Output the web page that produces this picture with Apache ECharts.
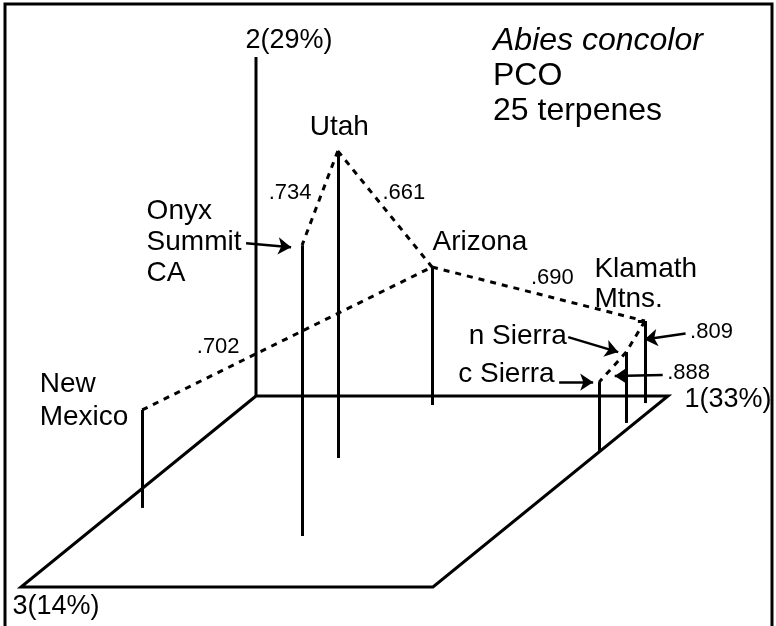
<!DOCTYPE html>
<html>
<head>
<meta charset="utf-8">
<script src="https://cdn.jsdelivr.net/npm/echarts@6/dist/echarts.min.js"></script>
<style>
html, body { margin: 0; padding: 0; background: #fff; }
#main { width: 776px; height: 626px; }
</style>
</head>
<body>
<div id="main"></div>
<script>
// populations and their PCO scores (as a fraction of each drawn axis)
var populations = ['New Mexico', 'Onyx Summit CA', 'Utah', 'Arizona', 'c Sierra', 'n Sierra', 'Klamath Mtns.'];
var popLabels = ['New\nMexico', 'Onyx\nSummit\nCA', 'Utah', 'Arizona', 'c Sierra', 'n Sierra', 'Klamath\nMtns.'];
var pco1 = [0.058, 0.530, 0.384, 0.454, 1.000, 0.979, 0.965];
var pco2 = [0.289, 0.858, 0.906, 0.407, 0.206, 0.209, 0.242];
var pco3 = [0.586, 0.733, 0.325, 0.047, 0.293, 0.141, 0.037];

// minimum spanning tree links (index into populations) and similarity
var linkFrom = [0, 2, 2, 3, 6, 5];
var linkTo = [3, 1, 3, 6, 5, 4];
var linkValues = ['.702', '.734', '.661', '.690', '.809', '.888'];

var axisNames = ['1(33%)', '2(29%)', '3(14%)'];

// --- oblique view of the 3 axes on the page ---
var FONT = 'Liberation Sans, Arial, sans-serif';
var INK = '#000';
var origin = [256, 396];
var e1 = [412, 0], e2 = [0, -339], e3 = [-235, 191];

function project(a, b, c) {
    return [origin[0] + a * e1[0] + b * e2[0] + c * e3[0],
            origin[1] + a * e1[1] + b * e2[1] + c * e3[1]];
}
function shift(p, d) {
    return [p[0] + d[0], p[1] + d[1]];
}
function mid(p, q) {
    return [(p[0] + q[0]) / 2, (p[1] + q[1]) / 2];
}

var tops = [], floors = [];
for (var i = 0; i < populations.length; i++) {
    tops.push(project(pco1[i], pco2[i], pco3[i]));
    floors.push(project(pco1[i], 0, pco3[i]));
}

// label placement (pixels from the top of each stick)
var popLabelLayout = [
    { d: [-102, -9], align: 'left', lh: 33 },
    { d: [-155, -2], align: 'left', lh: 31 },
    { d: [2, -23], align: 'center', lh: 30 },
    { d: [1, -24], align: 'left', lh: 30 },
    { d: [-44, -7], align: 'right', lh: 30 },
    { d: [-59, -15], align: 'right', lh: 30 },
    { d: [-50, -36], align: 'left', lh: 30 }
];
var linkLabelLayout = [
    { d: [-47, 9], align: 'right' },
    { d: [-8, -5], align: 'right' },
    { d: [-2, -16], align: 'left' },
    { d: [-7, -16], align: 'left' },
    { d: [55, -4], align: 'left' },
    { d: [55, 6], align: 'left' }
];
// pointer arrows: anchor, start offset, end offset
var arrows = [
    { pop: 1, from: [-56, -2], to: [-11, 2] },
    { pop: 5, from: [-58, -15], to: [-8, 0] },
    { pop: 4, from: [-40, 0], to: [-6, 0] },
    { link: 4, from: [50, -3], to: [9, 3] },
    { link: 5, from: [50, 8], to: [2, 9] }
];

var o = project(0, 0, 0), a1 = project(1, 0, 0), a2 = project(0, 1, 0),
    a3 = project(0, 0, 1), a13 = project(1, 0, 1);

var frameData = [
    { coords: [o, a1, a13, a3, o] },
    { coords: [o, a2] }
];
var stickData = [];
for (var i = 0; i < populations.length; i++) {
    stickData.push({ coords: [floors[i], tops[i]] });
}
// small cap at the top of the Klamath stick
stickData.push({ coords: [shift(tops[6], [-7, 0]), tops[6]] });

var linkData = [], linkMids = [];
for (var k = 0; k < linkFrom.length; k++) {
    linkData.push({ coords: [tops[linkFrom[k]], tops[linkTo[k]]] });
    linkMids.push(mid(tops[linkFrom[k]], tops[linkTo[k]]));
}
var arrowData = arrows.map(function (ar) {
    var anchor = ar.pop != null ? tops[ar.pop] : linkMids[ar.link];
    return { coords: [shift(anchor, ar.from), shift(anchor, ar.to)] };
});

var popLabelData = populations.map(function (name, i) {
    var l = popLabelLayout[i];
    return {
        name: name,
        value: tops[i],
        label: {
            formatter: popLabels[i], position: l.d, align: l.align,
            verticalAlign: 'middle', lineHeight: l.lh
        }
    };
});
var linkLabelData = linkValues.map(function (v, k) {
    var l = linkLabelLayout[k];
    return {
        name: v,
        value: linkMids[k],
        label: { formatter: v, position: l.d, align: l.align, verticalAlign: 'middle' }
    };
});
var axisLabelData = [
    { name: axisNames[0], value: a1, label: { formatter: axisNames[0], position: [17, 4], align: 'left', verticalAlign: 'middle' } },
    { name: axisNames[1], value: a2, label: { formatter: axisNames[1], position: [-10, -16], align: 'left', verticalAlign: 'middle' } },
    { name: axisNames[2], value: a3, label: { formatter: axisNames[2], position: [-8, 20], align: 'left', verticalAlign: 'middle' } }
];

function textSeries(data, size) {
    return {
        type: 'scatter', data: data, symbolSize: 1, silent: true,
        itemStyle: { color: 'rgba(0,0,0,0)', opacity: 1 },
        label: { show: true, fontFamily: FONT, fontSize: size, color: INK, opacity: 1 }
    };
}

var myChart = echarts.init(document.getElementById('main'));
var option = {
    animation: false,
    backgroundColor: '#fff',
    title: {
        left: 488,
        top: 19,
        text: '{i|Abies concolor}\n{n|PCO}\n{n|25 terpenes}',
        textStyle: {
            fontWeight: 'normal',
            rich: {
                i: { fontFamily: FONT, fontStyle: 'italic', fontWeight: 'normal', fontSize: 32, lineHeight: 35, color: INK },
                n: { fontFamily: FONT, fontWeight: 'normal', fontSize: 32, lineHeight: 35, color: INK }
            }
        }
    },
    graphic: [{
        type: 'rect',
        shape: { x: 5, y: 4, width: 767, height: 700 },
        style: { fill: 'none', stroke: INK, lineWidth: 3 },
        silent: true
    }],
    grid: { left: 0, right: 0, top: 0, bottom: 0 },
    xAxis: { type: 'value', min: 0, max: 776, show: false },
    yAxis: { type: 'value', min: 0, max: 626, inverse: true, show: false },
    series: [
        {
            type: 'lines', coordinateSystem: 'cartesian2d', polyline: true,
            data: frameData, symbol: 'none',
            lineStyle: { color: INK, width: 3, opacity: 1 }
        },
        {
            type: 'lines', coordinateSystem: 'cartesian2d',
            data: stickData, symbol: 'none',
            lineStyle: { color: INK, width: 3, opacity: 1 }
        },
        {
            type: 'lines', coordinateSystem: 'cartesian2d',
            data: linkData, symbol: 'none',
            lineStyle: { color: INK, width: 3, type: [6, 6], opacity: 1 }
        },
        {
            type: 'lines', coordinateSystem: 'cartesian2d',
            data: arrowData, symbol: ['none', 'arrow'], symbolSize: 13,
            lineStyle: { color: INK, width: 2.5, opacity: 1 }
        },
        textSeries(popLabelData, 28),
        textSeries(linkLabelData, 22),
        textSeries(axisLabelData, 27)
    ]
};
myChart.setOption(option);
</script>
</body>
</html>
